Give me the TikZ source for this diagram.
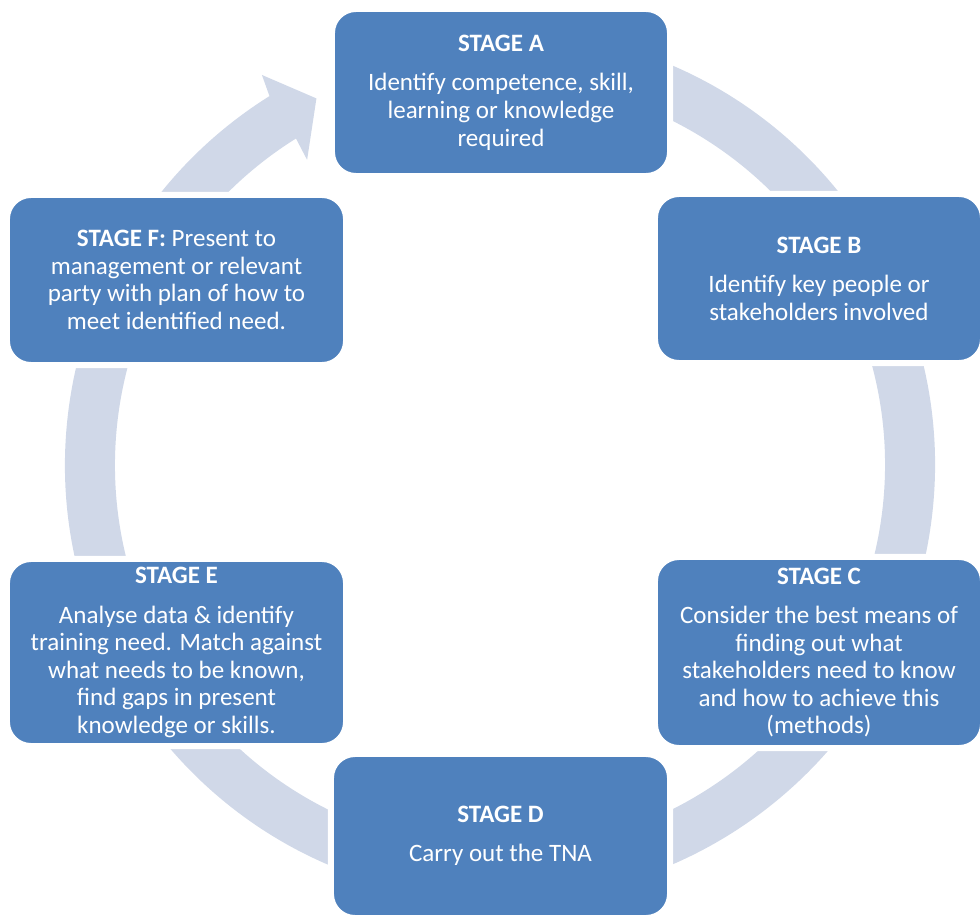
\documentclass[tikz,border=0pt]{standalone}
\usepackage{fontspec}
\setmainfont{Carlito}
\usepackage{tikz}
\definecolor{stageblue}{RGB}{79,129,189}
\definecolor{ringblue}{RGB}{208,216,232}

\begin{document}
\begin{tikzpicture}[x=0.025cm, y=-0.025cm,
    stage/.style={draw=white, line width=0.15cm, fill=stageblue, rounded corners=0.6cm,
      text=white, align=center, inner sep=0pt, font=\fontsize{17.8}{19.6}\selectfont}]
  \useasboundingbox (0,0) rectangle (980,916);
  \begin{scope}[shift={(500,465)}, y=0.025cm]
    \fill[ringblue] (440:435) arc[start angle=440, end angle=122, radius=435]
      -- (121.4:457) -- (116.6:410) -- (122.3:361) -- (122:385)
      arc[start angle=122, end angle=440, radius=385] -- cycle;
  \end{scope}
  \node[stage, minimum width=8.45cm, minimum height=4.175cm] (stageA) at (501,92.5)
    {\textbf{STAGE A}\\[0.3cm] Identify competence, skill,\\ learning or knowledge\\ required};
  \node[stage, minimum width=8.2cm, minimum height=4.225cm] (stageB) at (819,278.5)
    {\textbf{STAGE B}\\[0.3cm] Identify key people or\\ stakeholders involved};
  \node[stage, minimum width=8.2cm, minimum height=4.775cm] (stageC) at (819,652.5)
    {\textbf{STAGE C}\\[0.3cm] Consider the best means of\\ finding out what\\ stakeholders need to know\\ and how to achieve this\\ (methods)};
  \node[stage, minimum width=8.475cm, minimum height=4.1cm] (stageD) at (500.5,836)
    {\textbf{STAGE D}\\[0.3cm] Carry out the TNA};
  \node[stage, minimum width=8.475cm, minimum height=4.675cm] (stageE) at (176.5,652.5)
    {\textbf{STAGE E}\\[0.3cm] Analyse data \& identify\\ training need. Match against\\ what needs to be known,\\ find gaps in present\\ knowledge or skills.};
  \node[stage, minimum width=8.475cm, minimum height=4.25cm] (stageF) at (176.5,280)
    {\textbf{STAGE F:} Present to\\ management or relevant\\ party with plan of how to\\ meet identified need.};
\end{tikzpicture}
\end{document}
